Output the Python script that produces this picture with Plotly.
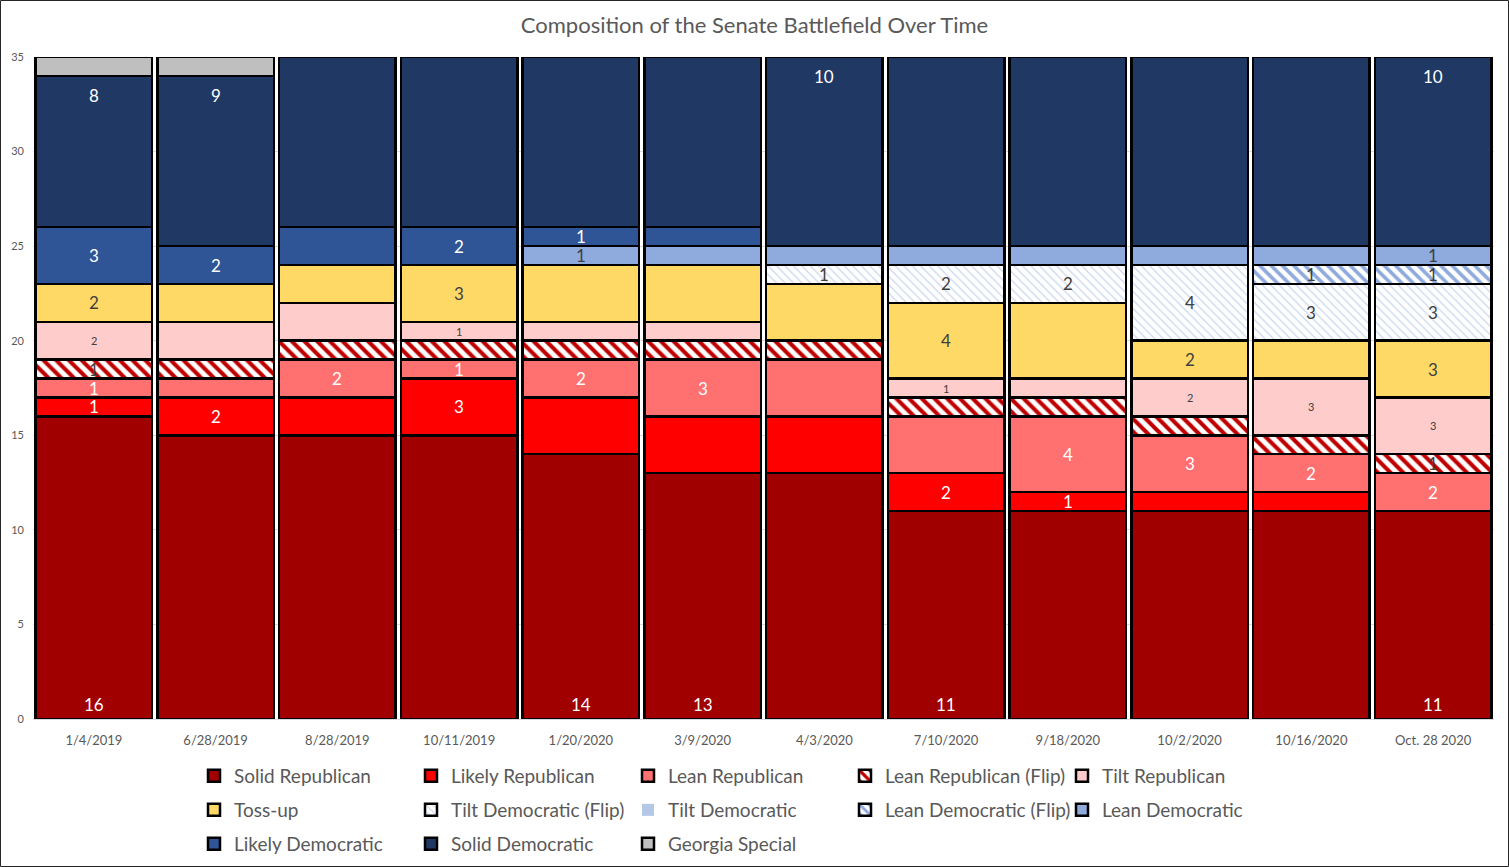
import plotly.graph_objects as go

dates = ["1/4/2019", "6/28/2019", "8/28/2019", "10/11/2019", "1/20/2020", "3/9/2020",
         "4/3/2020", "7/10/2020", "9/18/2020", "10/2/2020", "10/16/2020", "Oct. 28 2020"]

solid_rep      = [16, 15, 15, 15, 14, 13, 13, 11, 11, 11, 11, 11]
likely_rep     = [1, 2, 2, 3, 3, 3, 3, 2, 1, 1, 1, 0]
lean_rep       = [1, 1, 2, 1, 2, 3, 3, 3, 4, 3, 2, 2]
lean_rep_flip  = [1, 1, 1, 1, 1, 1, 1, 1, 1, 1, 1, 1]
tilt_rep       = [2, 2, 2, 1, 1, 1, 0, 1, 1, 2, 3, 3]
toss_up        = [2, 2, 2, 3, 3, 3, 3, 4, 4, 2, 2, 3]
tilt_dem_flip  = [0, 0, 0, 0, 0, 0, 1, 2, 2, 4, 3, 3]
tilt_dem       = [0, 0, 0, 0, 0, 0, 0, 0, 0, 0, 0, 0]
lean_dem_flip  = [0, 0, 0, 0, 0, 0, 0, 0, 0, 0, 1, 1]
lean_dem       = [0, 0, 0, 0, 1, 1, 1, 1, 1, 1, 1, 1]
likely_dem     = [3, 2, 2, 2, 1, 1, 0, 0, 0, 0, 0, 0]
solid_dem      = [8, 9, 9, 9, 9, 9, 10, 10, 10, 10, 10, 10]
georgia_sp     = [1, 1, 0, 0, 0, 0, 0, 0, 0, 0, 0, 0]

# which data labels are shown (1 = shown)
solid_rep_lbl     = [1, 0, 0, 0, 1, 1, 0, 1, 0, 0, 0, 1]
likely_rep_lbl    = [1, 1, 0, 1, 0, 0, 0, 1, 1, 0, 0, 0]
lean_rep_lbl      = [1, 0, 1, 1, 1, 1, 0, 0, 1, 1, 1, 1]
lean_rep_flip_lbl = [1, 0, 0, 0, 0, 0, 0, 0, 0, 0, 0, 1]
tilt_rep_lbl      = [1, 0, 0, 1, 0, 0, 0, 1, 0, 1, 1, 1]
toss_up_lbl       = [1, 0, 0, 1, 0, 0, 0, 1, 0, 1, 0, 1]
tilt_dem_flip_lbl = [0, 0, 0, 0, 0, 0, 1, 1, 1, 1, 1, 1]
tilt_dem_lbl      = [0, 0, 0, 0, 0, 0, 0, 0, 0, 0, 0, 0]
lean_dem_flip_lbl = [0, 0, 0, 0, 0, 0, 0, 0, 0, 0, 1, 1]
lean_dem_lbl      = [0, 0, 0, 0, 1, 0, 0, 0, 0, 0, 0, 1]
likely_dem_lbl    = [1, 1, 0, 1, 1, 0, 0, 0, 0, 0, 0, 0]
solid_dem_lbl     = [1, 1, 0, 0, 0, 0, 1, 0, 0, 0, 0, 1]
georgia_sp_lbl    = [0, 0, 0, 0, 0, 0, 0, 0, 0, 0, 0, 0]

FONT = "Lato"
GRAY = "#595959"
DARK = "#404040"

# name, values, labels, fill, pattern(shape, fg, solidity, size), label colour, label size, label place, legend, line width
series = [
    ("Solid Republican", solid_rep, solid_rep_lbl, "#A00000", None, "white", 17, "bottom", "legend", 2.5),
    ("Likely Republican", likely_rep, likely_rep_lbl, "#FF0000", None, "white", 17, "mid", "legend", 2.5),
    ("Lean Republican", lean_rep, lean_rep_lbl, "#FF7171", None, "white", 17, "mid", "legend", 2.5),
    ("Lean Republican (Flip)", lean_rep_flip, lean_rep_flip_lbl, "white", ("\\", "#C00000", 0.45, 9), DARK, 17, "mid", "legend", 2.5),
    ("Tilt Republican", tilt_rep, tilt_rep_lbl, "#FFCCCC", None, DARK, 11, "mid", "legend", 2.5),
    ("Toss-up", toss_up, toss_up_lbl, "#FFD966", None, DARK, 17, "mid", "legend2", 2.5),
    ("Tilt Democratic (Flip)", tilt_dem_flip, tilt_dem_flip_lbl, "white", ("\\", "#CCD8EE", 0.22, 6), DARK, 17, "mid", "legend2", 2.5),
    ("Tilt Democratic", tilt_dem, tilt_dem_lbl, "#B4C7E7", None, DARK, 17, "mid", "legend2", 0),
    ("Lean Democratic (Flip)", lean_dem_flip, lean_dem_flip_lbl, "white", ("\\", "#8FAADC", 0.45, 8), DARK, 17, "mid", "legend2", 2.5),
    ("Lean Democratic", lean_dem, lean_dem_lbl, "#8FAADC", None, DARK, 17, "mid", "legend2", 2.5),
    ("Likely Democratic", likely_dem, likely_dem_lbl, "#2F5597", None, "white", 17, "mid", "legend3", 2.5),
    ("Solid Democratic", solid_dem, solid_dem_lbl, "#203864", None, "white", 17, "top", "legend3", 2.5),
    ("Georgia Special", georgia_sp, georgia_sp_lbl, "#BFBFBF", None, DARK, 17, "mid", "legend3", 2.5),
]

fig = go.Figure()
annotations = []
base = [0] * len(dates)
for name, vals, lbls, color, pat, tcol, tsize, place, leg, lw in series:
    marker = dict(color=color, line=dict(color="black", width=lw))
    if pat:
        shape, fg, sol, size = pat
        marker["pattern"] = dict(shape=shape, fgcolor=fg, bgcolor="white",
                                 fillmode="replace", solidity=sol, size=size)
    fig.add_trace(go.Bar(x=dates, y=vals, name=name, marker=marker, legend=leg,
                         hoverinfo="x+y+name"))
    for i, (v, show) in enumerate(zip(vals, lbls)):
        if show and v > 0:
            if place == "bottom":
                y, ya, ys = base[i], "bottom", 2
            elif place == "top":
                y, ya, ys = base[i] + v, "top", -7
            else:
                y, ya, ys = base[i] + v / 2, "middle", 0
            annotations.append(dict(x=dates[i], y=y, xref="x", yref="y", text=str(v),
                                    showarrow=False, yanchor=ya, yshift=ys,
                                    font=dict(family=FONT, size=tsize, color=tcol)))
        base[i] += v

W, H = 1509, 867
ML, MR, MT, MB = 33, 15, 57, 148
PW, PH = W - ML - MR, H - MT - MB

def leg_y(py):
    return -(py - (H - MB)) / PH

legend_common = dict(orientation="h", xanchor="left", yanchor="middle",
                     entrywidth=172, entrywidthmode="pixels",
                     font=dict(family=FONT, size=19, color=GRAY),
                     bgcolor="rgba(0,0,0,0)", traceorder="normal")
lx = (194 - ML) / PW

fig.update_layout(
    width=W, height=H,
    margin=dict(l=ML, r=MR, t=MT, b=MB, autoexpand=False),
    barmode="stack", bargap=0.045,
    plot_bgcolor="white", paper_bgcolor="white",
    font=dict(family=FONT, color=GRAY),
    title=dict(text="Composition of the Senate Battlefield Over Time",
               x=0.5, xanchor="center", y=1 - 25 / H, yanchor="middle", yref="container",
               font=dict(family=FONT, size=22, color=GRAY)),
    xaxis=dict(showgrid=False, showline=True, linecolor="#D9D9D9", linewidth=1,
               tickfont=dict(family=FONT, size=13, color=GRAY), ticks="",
               ticklabelstandoff=9),
    yaxis=dict(range=[0, 35], dtick=5, showgrid=True, gridcolor="#D9D9D9", gridwidth=1,
               zeroline=False, showline=False, ticklabelstandoff=8,
               tickfont=dict(family=FONT, size=11, color=GRAY)),
    legend=dict(**legend_common, x=lx, y=leg_y(776)),
    legend2=dict(**legend_common, x=lx, y=leg_y(810)),
    legend3=dict(**legend_common, x=lx, y=leg_y(844)),
    annotations=annotations,
    shapes=[dict(type="rect", xref="paper", yref="paper",
                 x0=-(ML - 0.5) / PW, x1=1 + (MR - 0.5) / PW,
                 y0=-(MB - 0.5) / PH, y1=1 + (MT - 0.5) / PH,
                 line=dict(color="#262626", width=1), fillcolor="rgba(0,0,0,0)", layer="below")],
)

fig.write_html("out.html", config={"displayModeBar": False},
               post_script="document.body.style.margin='0';document.body.style.overflow='hidden';")
